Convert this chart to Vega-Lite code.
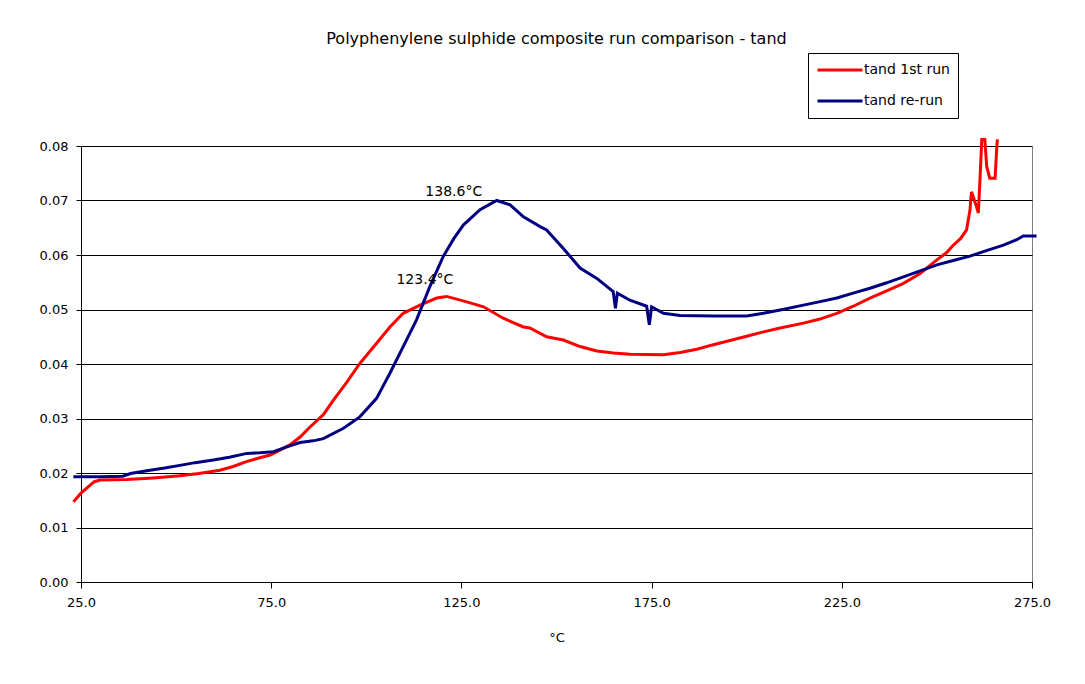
{
  "$schema": "https://vega.github.io/schema/vega-lite/v6.json",
  "width": 951,
  "height": 436,
  "autosize": {"type": "none"},
  "padding": {"left": 81, "top": 146, "right": 53, "bottom": 102},
  "background": "white",
  "config": {
    "view": {"stroke": "#808080", "strokeWidth": 1},
    "font": "DejaVu Sans"
  },
  "title": {
    "text": "Polyphenylene sulphide composite run comparison - tand",
    "fontSize": 16,
    "fontWeight": "normal",
    "font": "DejaVu Sans",
    "color": "black",
    "offset": 6,
    "anchor": "middle",
    "frame": "group"
  },
  "layer": [
    {
      "data": {
        "values": [
          {"series": "tand 1st run", "T": 23, "v": 0.0147},
          {"series": "tand 1st run", "T": 25, "v": 0.0163},
          {"series": "tand 1st run", "T": 28.5, "v": 0.0184},
          {"series": "tand 1st run", "T": 30, "v": 0.0187},
          {"series": "tand 1st run", "T": 37, "v": 0.0188},
          {"series": "tand 1st run", "T": 44, "v": 0.0191},
          {"series": "tand 1st run", "T": 51, "v": 0.0195},
          {"series": "tand 1st run", "T": 56, "v": 0.0199},
          {"series": "tand 1st run", "T": 61.5, "v": 0.0205},
          {"series": "tand 1st run", "T": 65, "v": 0.0212},
          {"series": "tand 1st run", "T": 68.5, "v": 0.0221},
          {"series": "tand 1st run", "T": 72, "v": 0.0228},
          {"series": "tand 1st run", "T": 74.7, "v": 0.0233},
          {"series": "tand 1st run", "T": 77.3, "v": 0.0242},
          {"series": "tand 1st run", "T": 80, "v": 0.0252},
          {"series": "tand 1st run", "T": 82.6, "v": 0.0266},
          {"series": "tand 1st run", "T": 85, "v": 0.0283},
          {"series": "tand 1st run", "T": 88.7, "v": 0.0307},
          {"series": "tand 1st run", "T": 91.5, "v": 0.0335},
          {"series": "tand 1st run", "T": 94.8, "v": 0.0366},
          {"series": "tand 1st run", "T": 98.3, "v": 0.0401},
          {"series": "tand 1st run", "T": 102.7, "v": 0.0438},
          {"series": "tand 1st run", "T": 106.2, "v": 0.0468},
          {"series": "tand 1st run", "T": 109.7, "v": 0.0493},
          {"series": "tand 1st run", "T": 114.1, "v": 0.0508},
          {"series": "tand 1st run", "T": 118.5, "v": 0.0521},
          {"series": "tand 1st run", "T": 121.1, "v": 0.0524},
          {"series": "tand 1st run", "T": 126.4, "v": 0.0514},
          {"series": "tand 1st run", "T": 130.8, "v": 0.0505},
          {"series": "tand 1st run", "T": 136, "v": 0.0484},
          {"series": "tand 1st run", "T": 141.3, "v": 0.0468},
          {"series": "tand 1st run", "T": 143, "v": 0.0466},
          {"series": "tand 1st run", "T": 147.4, "v": 0.045},
          {"series": "tand 1st run", "T": 151.8, "v": 0.0444},
          {"series": "tand 1st run", "T": 156.2, "v": 0.0432},
          {"series": "tand 1st run", "T": 160.6, "v": 0.0424},
          {"series": "tand 1st run", "T": 165, "v": 0.042},
          {"series": "tand 1st run", "T": 169.3, "v": 0.0418},
          {"series": "tand 1st run", "T": 178.1, "v": 0.0417},
          {"series": "tand 1st run", "T": 182.5, "v": 0.0421},
          {"series": "tand 1st run", "T": 186.9, "v": 0.0427},
          {"series": "tand 1st run", "T": 191, "v": 0.0435},
          {"series": "tand 1st run", "T": 195.6, "v": 0.0443},
          {"series": "tand 1st run", "T": 200, "v": 0.0451},
          {"series": "tand 1st run", "T": 204.4, "v": 0.0459},
          {"series": "tand 1st run", "T": 208.8, "v": 0.0466},
          {"series": "tand 1st run", "T": 214.9, "v": 0.0475},
          {"series": "tand 1st run", "T": 219, "v": 0.0482},
          {"series": "tand 1st run", "T": 223.7, "v": 0.0493},
          {"series": "tand 1st run", "T": 228, "v": 0.0506},
          {"series": "tand 1st run", "T": 232.4, "v": 0.0521},
          {"series": "tand 1st run", "T": 236.8, "v": 0.0534},
          {"series": "tand 1st run", "T": 241.2, "v": 0.0548},
          {"series": "tand 1st run", "T": 245.6, "v": 0.0566},
          {"series": "tand 1st run", "T": 250, "v": 0.0591},
          {"series": "tand 1st run", "T": 252.5, "v": 0.0604},
          {"series": "tand 1st run", "T": 254.3, "v": 0.0618},
          {"series": "tand 1st run", "T": 256.2, "v": 0.063},
          {"series": "tand 1st run", "T": 257.8, "v": 0.0646},
          {"series": "tand 1st run", "T": 258.7, "v": 0.0683},
          {"series": "tand 1st run", "T": 259.1, "v": 0.0716},
          {"series": "tand 1st run", "T": 260.4, "v": 0.0689},
          {"series": "tand 1st run", "T": 260.9, "v": 0.0677},
          {"series": "tand 1st run", "T": 261.3, "v": 0.0735},
          {"series": "tand 1st run", "T": 261.8, "v": 0.0812},
          {"series": "tand 1st run", "T": 262.6, "v": 0.0812},
          {"series": "tand 1st run", "T": 263.1, "v": 0.0762},
          {"series": "tand 1st run", "T": 263.9, "v": 0.0741},
          {"series": "tand 1st run", "T": 265.3, "v": 0.0741},
          {"series": "tand 1st run", "T": 265.7, "v": 0.0793},
          {"series": "tand 1st run", "T": 265.9, "v": 0.0812},
          {"series": "tand re-run", "T": 23, "v": 0.0193},
          {"series": "tand re-run", "T": 30, "v": 0.0193},
          {"series": "tand re-run", "T": 36, "v": 0.0194},
          {"series": "tand re-run", "T": 38, "v": 0.0199},
          {"series": "tand re-run", "T": 42.3, "v": 0.0204},
          {"series": "tand re-run", "T": 47, "v": 0.0209},
          {"series": "tand re-run", "T": 51, "v": 0.0214},
          {"series": "tand re-run", "T": 55, "v": 0.0219},
          {"series": "tand re-run", "T": 59.8, "v": 0.0224},
          {"series": "tand re-run", "T": 64, "v": 0.0229},
          {"series": "tand re-run", "T": 68.6, "v": 0.0236},
          {"series": "tand re-run", "T": 72, "v": 0.0237},
          {"series": "tand re-run", "T": 75.6, "v": 0.0239},
          {"series": "tand re-run", "T": 79.1, "v": 0.0248},
          {"series": "tand re-run", "T": 82.6, "v": 0.0256},
          {"series": "tand re-run", "T": 86, "v": 0.0259},
          {"series": "tand re-run", "T": 88.7, "v": 0.0263},
          {"series": "tand re-run", "T": 94, "v": 0.0282},
          {"series": "tand re-run", "T": 98.3, "v": 0.0303},
          {"series": "tand re-run", "T": 102.7, "v": 0.0337},
          {"series": "tand re-run", "T": 106.2, "v": 0.0383},
          {"series": "tand re-run", "T": 109.7, "v": 0.0432},
          {"series": "tand re-run", "T": 113.2, "v": 0.0481},
          {"series": "tand re-run", "T": 116.7, "v": 0.0542},
          {"series": "tand re-run", "T": 120.2, "v": 0.0597},
          {"series": "tand re-run", "T": 123, "v": 0.063},
          {"series": "tand re-run", "T": 125.5, "v": 0.0655},
          {"series": "tand re-run", "T": 129.9, "v": 0.0683},
          {"series": "tand re-run", "T": 134.3, "v": 0.07},
          {"series": "tand re-run", "T": 137.8, "v": 0.0692},
          {"series": "tand re-run", "T": 141.3, "v": 0.067},
          {"series": "tand re-run", "T": 145.7, "v": 0.0652},
          {"series": "tand re-run", "T": 147.4, "v": 0.0646},
          {"series": "tand re-run", "T": 151.8, "v": 0.0612},
          {"series": "tand re-run", "T": 156.2, "v": 0.0576},
          {"series": "tand re-run", "T": 160.6, "v": 0.0557},
          {"series": "tand re-run", "T": 164.9, "v": 0.0533},
          {"series": "tand re-run", "T": 165.5, "v": 0.0502},
          {"series": "tand re-run", "T": 166, "v": 0.053},
          {"series": "tand re-run", "T": 169.3, "v": 0.0517},
          {"series": "tand re-run", "T": 173.7, "v": 0.0506},
          {"series": "tand re-run", "T": 174.4, "v": 0.0472},
          {"series": "tand re-run", "T": 175, "v": 0.0505},
          {"series": "tand re-run", "T": 178.1, "v": 0.0493},
          {"series": "tand re-run", "T": 182.5, "v": 0.0489},
          {"series": "tand re-run", "T": 191.2, "v": 0.0488},
          {"series": "tand re-run", "T": 200, "v": 0.0488},
          {"series": "tand re-run", "T": 204.4, "v": 0.0493},
          {"series": "tand re-run", "T": 208.8, "v": 0.0499},
          {"series": "tand re-run", "T": 214.9, "v": 0.0508},
          {"series": "tand re-run", "T": 219, "v": 0.0514},
          {"series": "tand re-run", "T": 223.7, "v": 0.0521},
          {"series": "tand re-run", "T": 228, "v": 0.053},
          {"series": "tand re-run", "T": 232.4, "v": 0.0539},
          {"series": "tand re-run", "T": 236.8, "v": 0.0549},
          {"series": "tand re-run", "T": 241.2, "v": 0.056},
          {"series": "tand re-run", "T": 245.6, "v": 0.0571},
          {"series": "tand re-run", "T": 250, "v": 0.0582},
          {"series": "tand re-run", "T": 254.3, "v": 0.059},
          {"series": "tand re-run", "T": 258.7, "v": 0.0598},
          {"series": "tand re-run", "T": 263, "v": 0.0608},
          {"series": "tand re-run", "T": 267.5, "v": 0.0618},
          {"series": "tand re-run", "T": 271, "v": 0.0628},
          {"series": "tand re-run", "T": 272.7, "v": 0.0635},
          {"series": "tand re-run", "T": 276.2, "v": 0.0635}
        ]
      },
      "mark": {"type": "line", "strokeWidth": 3, "clip": false},
      "encoding": {
        "x": {
          "field": "T",
          "type": "quantitative",
          "scale": {"domain": [25, 275], "nice": false, "zero": false},
          "axis": {
            "values": [25, 75, 125, 175, 225, 275],
            "format": ".1f",
            "grid": false,
            "domainColor": "black",
            "tickColor": "black",
            "tickSize": 6,
            "labelColor": "black",
            "labelFontSize": 13,
            "labelPadding": 8,
            "labelFlush": false,
            "title": "°C",
            "titleColor": "black",
            "titleFontSize": 13,
            "titleFontWeight": "normal",
            "titlePadding": 22
          }
        },
        "y": {
          "field": "v",
          "type": "quantitative",
          "scale": {"domain": [0, 0.08], "nice": false},
          "axis": {
            "values": [0, 0.01, 0.02, 0.03, 0.04, 0.05, 0.06, 0.07, 0.08],
            "format": ".2f",
            "grid": true,
            "gridColor": "black",
            "gridOpacity": 1,
            "gridWidth": 1,
            "domainColor": "black",
            "tickColor": "black",
            "tickSize": 5,
            "labelColor": "black",
            "labelFontSize": 13,
            "labelPadding": 8,
            "title": null
          }
        },
        "color": {
          "field": "series",
          "type": "nominal",
          "scale": {"domain": ["tand 1st run", "tand re-run"], "range": ["#FF0000", "#000080"]},
          "legend": {
            "title": null,
            "orient": "none",
            "legendX": 727,
            "legendY": -93,
            "symbolType": "stroke",
            "symbolSize": 2025,
            "symbolStrokeWidth": 3,
            "labelOffset": 0,
            "labelFontSize": 14,
            "labelColor": "black",
            "clipHeight": 18,
            "rowPadding": 13,
            "padding": 8,
            "strokeColor": "black",
            "fillColor": "white"
          }
        }
      }
    },
    {
      "data": {
        "values": [
          {"T": 123, "v": 0.0716, "label": "138.6°C"},
          {"T": 115.4, "v": 0.0554, "label": "123.4°C"}
        ]
      },
      "mark": {"type": "text", "fontSize": 14, "color": "black", "align": "center", "baseline": "middle"},
      "encoding": {
        "x": {"field": "T", "type": "quantitative"},
        "y": {"field": "v", "type": "quantitative"},
        "text": {"field": "label", "type": "nominal"}
      }
    }
  ]
}
